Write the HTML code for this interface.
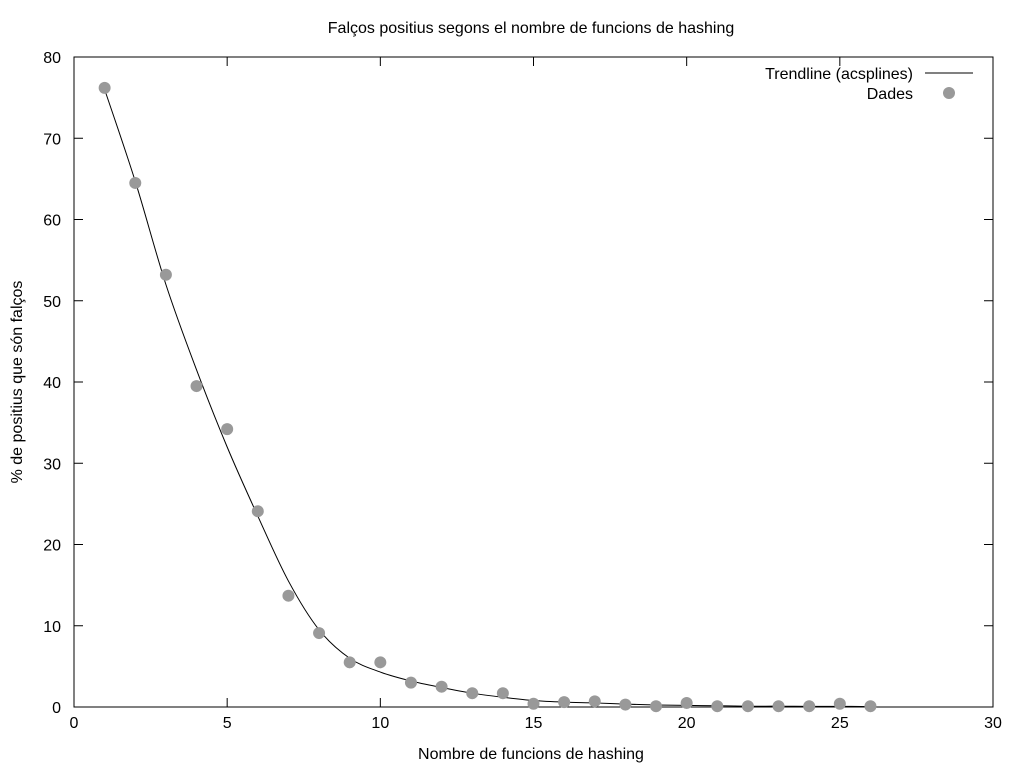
<!DOCTYPE html>
<html><head><meta charset="utf-8"><style>
html,body{margin:0;padding:0;background:#fff;}
svg{display:block;font-family:"Liberation Sans",Arial,sans-serif;}
</style></head><body>
<svg id="chart" width="1024" height="768" viewBox="0 0 1024 768">
<text x="531" y="33" font-size="16" text-anchor="middle">Falços positius segons el nombre de funcions de hashing</text>
<rect x="74" y="57" width="919" height="650" fill="none" stroke="#000" stroke-width="1"/>
<g id="ticks"></g>
<text x="531" y="759" font-size="16" text-anchor="middle">Nombre de funcions de hashing</text>
<text transform="translate(22,382) rotate(-90)" font-size="16" text-anchor="middle">% de positius que són falços</text>
<g id="series"></g>
<g>
<text x="913" y="79" font-size="16" text-anchor="end">Trendline (acsplines)</text>
<line x1="925" y1="73" x2="973" y2="73" stroke="#000"/>
<text x="913" y="99" font-size="16" text-anchor="end">Dades</text>
<circle cx="949" cy="93" r="6" fill="#999"/>
</g>
</svg>
<script>
const xs = [1,2,3,4,5,6,7,8,9,10,11,12,13,14,15,16,17,18,19,20,21,22,23,24,25,26];
const dataVals = [76.2,64.5,53.2,39.5,34.2,24.1,13.7,9.1,5.5,5.5,3.0,2.5,1.7,1.7,0.4,0.6,0.7,0.3,0.1,0.5,0.1,0.1,0.1,0.1,0.4,0.1];
const trendVals = [76,64.7,52,41.5,32,23.5,15.5,9.5,6,4.3,3.2,2.4,1.7,1.2,0.8,0.6,0.5,0.35,0.25,0.2,0.15,0.1,0.1,0.08,0.08,0.05];
const xTicks = [0,5,10,15,20,25,30];
const yTicks = [0,10,20,30,40,50,60,70,80];

const NS = "http://www.w3.org/2000/svg";
const X = v => 74 + v * (919 / 30);
const Y = v => 707 - v * (650 / 80);
function mk(tag, attrs, parent) {
  const e = document.createElementNS(NS, tag);
  for (const k in attrs) e.setAttribute(k, attrs[k]);
  parent.appendChild(e);
  return e;
}
const tg = document.getElementById('ticks');
xTicks.forEach(t => {
  const x = X(t);
  const l1 = mk('line', {x1:x, y1:707, x2:x, y2:698, stroke:'#000'}, tg);
  
  
  const l2 = mk('line', {x1:x, y1:57, x2:x, y2:66, stroke:'#000'}, tg);
  
  
  const tx = mk('text', {x:x, y:728, 'font-size':16, 'text-anchor':'middle'}, tg);
  tx.textContent = t;
  
  
});
yTicks.forEach(t => {
  const y = Y(t);
  const l1 = mk('line', {x1:74, y1:y, x2:83, y2:y, stroke:'#000'}, tg);
  
  
  const l2 = mk('line', {x1:984, y1:y, x2:993, y2:y, stroke:'#000'}, tg);
  
  
  const tx = mk('text', {x:61, y:y+6, 'font-size':16, 'text-anchor':'end'}, tg);
  tx.textContent = t;
  
  
});
const sg = document.getElementById('series');
const pts = xs.map((x,i) => [X(x), Y(trendVals[i])]);
let d = 'M' + pts[0][0] + ',' + pts[0][1];
for (let i = 0; i < pts.length - 1; i++) {
  const p0 = pts[Math.max(0,i-1)], p1 = pts[i], p2 = pts[i+1], p3 = pts[Math.min(pts.length-1,i+2)];
  const c1 = [p1[0] + (p2[0]-p0[0])/6, p1[1] + (p2[1]-p0[1])/6];
  const c2 = [p2[0] - (p3[0]-p1[0])/6, p2[1] - (p3[1]-p1[1])/6];
  d += ' C' + c1 + ' ' + c2 + ' ' + p2;
}
const path = mk('path', {d:d, fill:'none', stroke:'#000', 'stroke-width':1}, sg);


xs.forEach((x,i) => {
  const c = mk('circle', {cx:X(x), cy:Y(dataVals[i]), r:6, fill:'#999'}, sg);
  
  
});
</script>
</body></html>
